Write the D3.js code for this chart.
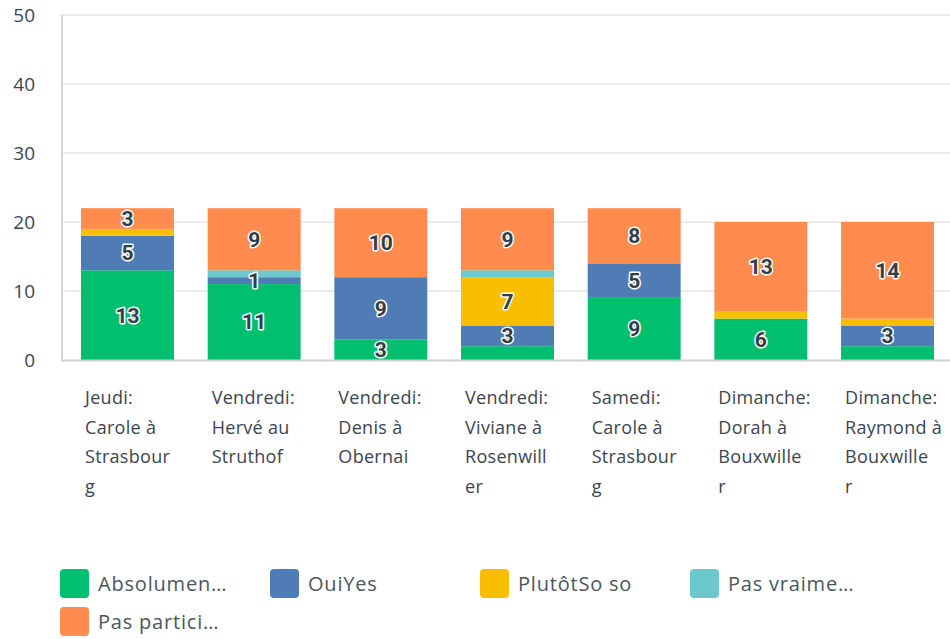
<!DOCTYPE html>
<html>
<head>
<meta charset="utf-8">
<script src="https://cdn.jsdelivr.net/npm/d3@7"></script>
<style>
  body { margin: 0; background: #fff; }
  svg { display: block; font-family: "Open Sans", Roboto, sans-serif; }
</style>
</head>
<body>
<svg id="chart" width="950" height="639"></svg>
<script>
// categories along the x axis
const categories = [
  "Jeudi: Carole à Strasbourg",
  "Vendredi: Hervé au Struthof",
  "Vendredi: Denis à Obernai",
  "Vendredi: Viviane à Rosenwiller",
  "Samedi: Carole à Strasbourg",
  "Dimanche: Dorah à Bouxwiller",
  "Dimanche: Raymond à Bouxwiller"
];

// series names (as shown in legend) and colours
const seriesNames = ["Absolumen…", "OuiYes", "PlutôtSo so", "Pas vraime…", "Pas partici…"];
const seriesColors = ["#00bf6f", "#507cb6", "#f9be00", "#6bc8cd", "#ff8b4f"];

// values per series, one per category
const absolument = [13, 11, 3, 2, 9, 6, 2];
const ouiYes     = [5, 1, 9, 3, 5, 0, 3];
const plutot     = [1, 0, 0, 7, 0, 1, 1];
const pasVraiment = [0, 1, 0, 1, 0, 0, 0];
const pasParticipe = [3, 9, 10, 9, 8, 13, 14];

const yTicks = [0, 10, 20, 30, 40, 50];

const seriesValues = [absolument, ouiYes, plutot, pasVraiment, pasParticipe];

// small values that still got a label in the original
const labelledSmall = [[1, 1]]; // [categoryIndex, seriesIndex]

const rows = categories.map(function(c, i) {
  const r = { cat: c };
  seriesNames.forEach(function(s, j) { r[s] = seriesValues[j][i]; });
  return r;
});

const svg = d3.select("#chart");

const x = d3.scaleBand()
  .domain(categories)
  .range([62, 953])
  .paddingInner(0.266)
  .paddingOuter(0.15);

const y = d3.scaleLinear()
  .domain([0, 50])
  .range([360, 15]);

// gridlines
svg.append("g")
  .selectAll("line")
  .data(yTicks.slice(1))
  .enter()
  .append("line")
    .attr("x1", 62)
    .attr("x2", 950)
    .attr("y1", d => y(d))
    .attr("y2", d => y(d))
    .attr("stroke", "#ececec")
    .attr("stroke-width", 2);

// y tick labels
svg.append("g")
  .selectAll("text")
  .data(yTicks)
  .enter()
  .append("text")
    .attr("x", 35)
    .attr("y", d => y(d))
    .attr("dy", "0.35em")
    .attr("text-anchor", "end")
    .style("font-size", "19px")
    .style("fill", "#3b4550")
    .text(d => d);

const stack = d3.stack().keys(seriesNames);
const stacked = stack(rows);

const layers = svg.append("g")
  .selectAll("g")
  .data(stacked)
  .enter()
  .append("g")
    .attr("fill", (d, i) => seriesColors[i]);

layers.selectAll("rect")
  .data(d => d)
  .enter()
  .append("rect")
    .attr("x", d => x(d.data.cat))
    .attr("width", x.bandwidth())
    .attr("y", d => y(d[1]))
    .attr("height", d => y(d[0]) - y(d[1]));

// axis lines
svg.append("line")
  .attr("x1", 62).attr("x2", 62)
  .attr("y1", 15).attr("y2", 361)
  .attr("stroke", "#d6d6d6").attr("stroke-width", 2);
svg.append("line")
  .attr("x1", 61).attr("x2", 950)
  .attr("y1", 360.5).attr("y2", 360.5)
  .attr("stroke", "#cfcfcf").attr("stroke-width", 2);

// value labels
const labelData = [];
stacked.forEach(function(layer, j) {
  layer.forEach(function(d, i) {
    const v = d[1] - d[0];
    const forced = labelledSmall.some(p => p[0] === i && p[1] === j);
    if (v >= 3 || (v > 0 && forced)) {
      labelData.push({ cat: d.data.cat, mid: (d[0] + d[1]) / 2, v: v });
    }
  });
});

svg.append("g")
  .selectAll("text")
  .data(labelData)
  .enter()
  .append("text")
    .attr("x", d => x(d.cat) + x.bandwidth() / 2)
    .attr("y", d => y(d.mid))
    .attr("dy", "0.35em")
    .attr("text-anchor", "middle")
    .style("font-family", "Roboto, sans-serif")
    .style("font-size", "21px")
    .style("font-weight", "bold")
    .style("fill", "#333e48")
    .style("stroke", "#fff")
    .style("stroke-width", 3)
    .style("stroke-linejoin", "round")
    .style("paint-order", "stroke")
    .text(d => d.v);

// x labels wrapped like the original (9 characters per line)
function wrapLabel(s, max) {
  const lines = [];
  let cur = "";
  s.split(" ").forEach(function(w) {
    const test = cur ? cur + " " + w : w;
    if (test.length <= max) { cur = test; return; }
    if (cur) lines.push(cur);
    cur = w;
    while (cur.length > max) {
      lines.push(cur.slice(0, max));
      cur = cur.slice(max);
    }
  });
  if (cur) lines.push(cur);
  return lines;
}

const xl = svg.append("g")
  .selectAll("text")
  .data(categories)
  .enter()
  .append("text")
    .attr("y", 398)
    .style("font-size", "18px")
    .style("letter-spacing", "0.3px")
    .style("fill", "#3b4550");

xl.selectAll("tspan")
  .data(d => wrapLabel(d, 9).map(t => ({ t: t, x: x(d) + 4 })))
  .enter()
  .append("tspan")
    .attr("x", d => d.x)
    .attr("dy", (d, i) => i === 0 ? "0.35em" : 29.5)
    .text(d => d.t);

// legend
const legend = svg.append("g")
  .selectAll("g")
  .data(seriesNames)
  .enter()
  .append("g")
    .attr("transform", (d, i) => `translate(${60 + (i % 4) * 210}, ${569 + Math.floor(i / 4) * 38})`);

legend.append("rect")
  .attr("width", 29)
  .attr("height", 29)
  .attr("rx", 4)
  .attr("fill", (d, i) => seriesColors[i]);

legend.append("text")
  .attr("x", 38)
  .attr("y", 15)
  .attr("dy", "0.35em")
  .style("font-size", "20px")
  .style("letter-spacing", "0.8px")
  .style("fill", "#4b5660")
  .text(d => d);
</script>
</body>
</html>
